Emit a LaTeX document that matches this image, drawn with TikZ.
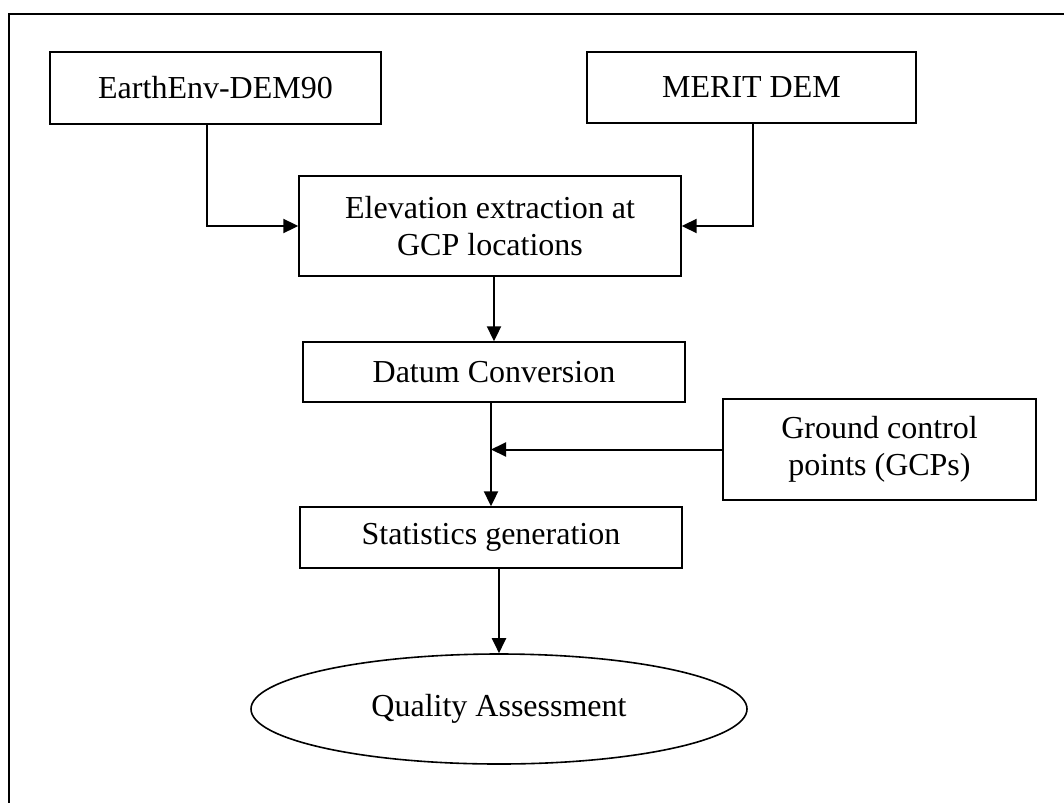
\documentclass[tikz,border=0pt]{standalone}
\usepackage{fontspec}
\setmainfont{Liberation Serif}
\usetikzlibrary{arrows.meta,shapes.geometric}
\begin{document}
\begin{tikzpicture}[x=1pt,y=-1pt,
  box/.style={draw, line width=1.4pt, rectangle, inner sep=0pt, align=center,
    font=\fontsize{32pt}{37pt}\selectfont},
  oval/.style={draw, line width=1.6pt, ellipse, inner sep=0pt, align=center,
    font=\fontsize{32pt}{37pt}\selectfont},
  arr/.style={line width=2pt, -{Triangle[length=15pt,width=14pt]}},
  frame/.style={line width=1.6pt}]
\useasboundingbox (0,0) rectangle (1064,803);
\coordinate (f1) at (1064,14);
\coordinate (f2) at (9,14);
\coordinate (f3) at (9,803);
\draw[frame] (f1) -- (f2) -- (f3);

\node[box, minimum width=331pt, minimum height=72pt] (ee) at (215.5,88) {EarthEnv-DEM90};
\node[box, minimum width=329pt, minimum height=71pt] (merit) at (751.5,87.5) {MERIT DEM};
\node[box, minimum width=382pt, minimum height=100pt] (elev) at (490,226) {Elevation extraction at\\GCP locations};
\node[box, minimum width=382pt, minimum height=60pt] (datum) at (494,372) {Datum Conversion};
\node[box, minimum width=313pt, minimum height=101pt] (gcp) at (879.5,449.5) {Ground control\\points (GCPs)};
\node[box, minimum width=382pt, minimum height=61pt] (stats) at (491,537.5) {Statistics generation};
\node[oval, minimum width=496pt, minimum height=110pt] (qa) at (499,709) {Quality Assessment};

\draw[arr] ([xshift=-8.5pt]ee.south) |- (elev.west);
\draw[arr] ([xshift=1.5pt]merit.south) |- (elev.east);
\draw[arr] (datum.north |- elev.south) -- (datum.north);
\draw[arr] (datum.south -| stats.north) -- (stats.north);
\draw[arr] (gcp.west) -- (gcp.west -| stats.north);
\draw[arr] (stats.south -| qa.north) -- (qa.north);
\end{tikzpicture}
\end{document}
